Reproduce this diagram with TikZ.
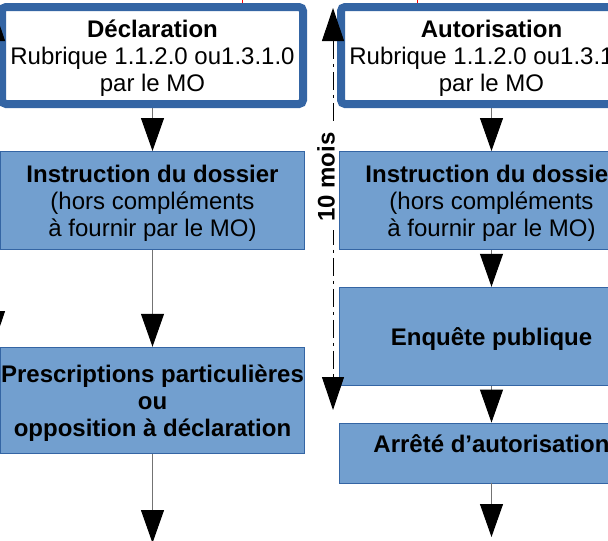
\documentclass[tikz,border=0pt]{standalone}
\usepackage{fontspec}
\setmainfont{Liberation Sans}
\usepackage{xcolor}
\usetikzlibrary{shapes,arrows.meta,positioning,calc}

\definecolor{bordbleu}{HTML}{3465A4}
\definecolor{fondbleu}{HTML}{729FCF}

\begin{document}
\begin{tikzpicture}[x=1pt, y=-1pt,
  every node/.style={font=\fontsize{24}{27}\selectfont, align=center, inner sep=0pt, text depth=0pt},
  cadre/.style={rectangle, draw=bordbleu, line width=8pt, rounded corners=4pt, fill=white, minimum width=301pt, minimum height=97pt},
  etape/.style={rectangle, draw=bordbleu, line width=0.8pt, fill=fondbleu, minimum width=304pt},
  fleche/.style={draw=black!55, line width=1pt, -{Triangle[length=33pt,width=23pt,color=black]}},
  delai/.style={draw=black, line width=1pt, dash pattern=on 18pt off 5pt on 3pt off 5pt,
    {Triangle[length=33pt,width=22pt]}-{Triangle[length=33pt,width=22pt]}}]

\useasboundingbox (0,0) rectangle (608,541);
\clip (0,0) rectangle (608,541);

% bouts rouges en haut
\coordinate (rouge1) at (242,-8);
\coordinate (rouge2) at (417,-8);
\draw[red, line width=1pt] (rouge1) -- ++(0,18);
\draw[red, line width=1pt] (rouge2) -- ++(0,18);

% colonne declaration
\node[cadre] (decl) at (152.5,55.5) {\textbf{Déclaration}\\Rubrique 1.1.2.0 ou1.3.1.0\\par le MO};
\node[etape, minimum height=98pt, below=43pt of decl] (instrD) {\textbf{Instruction du dossier}\\(hors compléments\\à fournir par le MO)};
\node[etape, minimum height=106pt, below=97pt of instrD] (presc) {\textbf{Prescriptions particulières}\\\textbf{ou}\\\textbf{opposition à déclaration}};

% colonne autorisation
\node[cadre, right=30pt of decl] (auto) {\textbf{Autorisation}\\Rubrique 1.1.2.0 ou1.3.1.0\\par le MO};
\node[etape, minimum height=98pt, below=43pt of auto] (instrA) {\textbf{Instruction du dossier}\\(hors compléments\\à fournir par le MO)};
\node[etape, minimum height=98pt, below=37pt of instrA] (enq) {\textbf{Enquête publique}};
\node[etape, minimum height=60pt, text depth=19pt, below=37pt of enq] (arr) {\textbf{Arrêté d’autorisation}};

\coordinate (finD) at (152.5,543);
\coordinate (finA) at (491.5,537);

\draw[fleche] (decl) -- (instrD);
\draw[fleche] (instrD) -- (presc);
\draw[fleche] (presc) -- (finD);
\draw[fleche] (auto) -- (instrA);
\draw[fleche] (instrA) -- (enq);
\draw[fleche] (enq) -- (arr);
\draw[fleche] (arr) -- (finA);

% delais
\coordinate (hautG) at (-6,8);
\coordinate (basG) at (-6,344);
\draw[delai] (hautG) -- (basG);

\coordinate (haut10) at (333,8);
\coordinate (bas10) at (333,410);
\draw[delai] (haut10) -- (bas10);
\node[fill=white, rotate=90, inner xsep=8pt, inner ysep=1pt] (mois) at (326,177) {\textbf{10 mois}};
\end{tikzpicture}
\end{document}
